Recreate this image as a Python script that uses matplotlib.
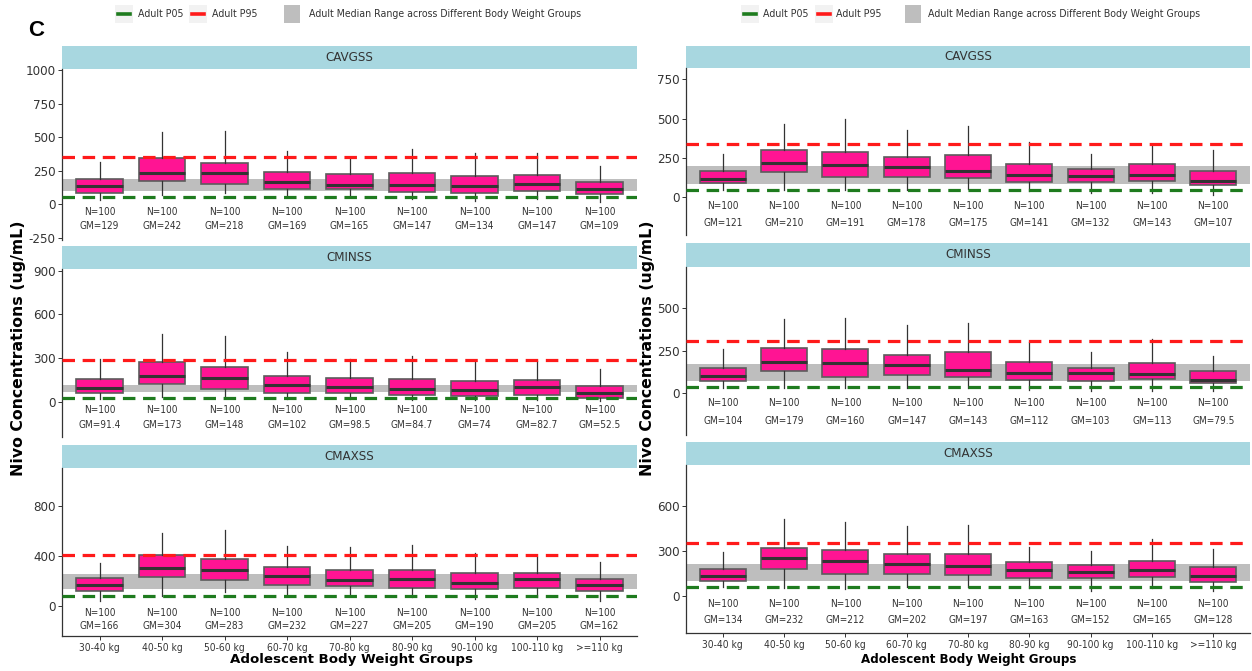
import matplotlib
matplotlib.use("Agg")
import matplotlib.pyplot as plt
from matplotlib.patches import Rectangle
from matplotlib.lines import Line2D

W, H = 1252, 671
plt.rcParams['font.family'] = ['DejaVu Sans']
plt.rcParams['font.stretch'] = 'condensed'
plt.rcParams['lines.scale_dashes'] = False

# ---------------------------------------------------------------- data
groups = ["30-40 kg", "40-50 kg", "50-60 kg", "60-70 kg", "70-80 kg",
          "80-90 kg", "90-100 kg", "100-110 kg", ">=110 kg"]
n_subjects = [100, 100, 100, 100, 100, 100, 100, 100, 100]
metrics = ["CAVGSS", "CMINSS", "CMAXSS"]

# left column: box statistics per weight group
left_cavgss = dict(
    whislo=[35, 67, 85, 55, 55, 42, 25, 42, 17],
    q1=[87, 172, 150, 110, 110, 92, 85, 100, 75],
    med=[135, 232, 230, 168, 142, 147, 138, 153, 112],
    q3=[190, 347, 310, 242, 222, 230, 210, 217, 167],
    whishi=[317, 535, 542, 397, 347, 412, 385, 380, 285])
left_cminss = dict(
    whislo=[19, 30, 26, 19, 19, 12, 12, 12, 7],
    q1=[58, 124, 89, 58, 58, 47, 42, 49, 26],
    med=[96, 175, 166, 117, 100, 89, 82, 100, 58],
    q3=[157, 274, 236, 175, 166, 157, 143, 147, 110],
    whishi=[292, 463, 452, 339, 292, 311, 276, 283, 227])
left_cmaxss = dict(
    whislo=[43, 84, 111, 84, 78, 76, 54, 70, 38],
    q1=[119, 232, 211, 165, 159, 146, 138, 143, 119],
    med=[170, 300, 286, 243, 211, 216, 184, 213, 165],
    q3=[227, 408, 373, 313, 286, 286, 265, 267, 213],
    whishi=[346, 583, 605, 481, 467, 489, 421, 394, 354])
left_gm = [["129", "242", "218", "169", "165", "147", "134", "147", "109"],
           ["91.4", "173", "148", "102", "98.5", "84.7", "74", "82.7", "52.5"],
           ["166", "304", "283", "232", "227", "205", "190", "205", "162"]]
left_p05 = [55, 26, 81]
left_p95 = [352, 285, 405]
left_band_lo = [100, 66, 138]
left_band_hi = [185, 117, 259]

# right column: box statistics per weight group
right_cavgss = dict(
    whislo=[45, 45, 45, 45, 55, 40, 25, 25, 15],
    q1=[89, 160, 128, 128, 121, 96, 96, 106, 75],
    med=[118, 215, 205, 190, 170, 140, 136, 142, 102],
    q3=[166, 298, 288, 256, 266, 209, 181, 209, 166],
    whishi=[277, 468, 500, 426, 452, 351, 272, 324, 298])
right_cminss = dict(
    whislo=[29, 33, 33, 33, 33, 20, 14, 14, 14],
    q1=[74, 131, 98, 108, 94, 78, 74, 82, 59],
    med=[102, 186, 176, 167, 136, 118, 118, 112, 80],
    q3=[151, 265, 261, 225, 241, 182, 151, 180, 131],
    whishi=[261, 435, 445, 402, 412, 300, 241, 320, 221])
right_cmaxss = dict(
    whislo=[61, 49, 43, 61, 61, 49, 34, 49, 34],
    q1=[99, 178, 144, 146, 139, 117, 121, 124, 90],
    med=[130, 252, 229, 213, 200, 169, 157, 169, 128],
    q3=[178, 315, 303, 279, 279, 225, 202, 229, 191],
    whishi=[290, 510, 492, 465, 470, 326, 297, 375, 308])
right_gm = [["121", "210", "191", "178", "175", "141", "132", "143", "107"],
            ["104", "179", "160", "147", "143", "112", "103", "113", "79.5"],
            ["134", "232", "212", "202", "197", "163", "152", "165", "128"]]
right_p05 = [49, 35, 61]
right_p95 = [341, 308, 353]
right_band_lo = [85, 73, 101]
right_band_hi = [200, 174, 213]

left_yticks = [[-250, 0, 250, 500, 750, 1000], [0, 300, 600, 900], [0, 400, 800]]
right_yticks = [[0, 250, 500, 750], [0, 250, 500], [0, 300, 600]]

# ---------------------------------------------------------------- style
BOX_FILL = "#FF1493"
BOX_EDGE = "#5c5c5c"
DARK = "#333333"
STRIP = "#A8D7E0"
BAND = "#BEBEBE"
RED = "#FF1A1A"
GREEN = "#1E7B1E"

fig = plt.figure(figsize=(W / 100, H / 100), dpi=100)


def px_axes(x0, x1, y0, y1):
    return fig.add_axes([x0 / W, 1 - y1 / H, (x1 - x0) / W, (y1 - y0) / H])


def fx(x):
    return x / W


def fy(y):
    return 1 - y / H


def draw_panel(x0, x1, strip_top, top, bottom, ylim, stats_dict, gm, p05, p95,
               blo, bhi, yticks, title, show_x):
    sax = px_axes(x0, x1, strip_top, top)
    sax.set_facecolor(STRIP)
    sax.set_xticks([])
    sax.set_yticks([])
    for s in sax.spines.values():
        s.set_visible(False)
    sax.text(0.5, 0.5, title, ha="center", va="center", fontsize=9.5,
             color=DARK, transform=sax.transAxes)

    ax = px_axes(x0, x1, top, bottom)
    ax.set_xlim(0.4, 9.6)
    ax.set_ylim(*ylim)
    ax.axhspan(blo, bhi, color=BAND, lw=0, zorder=1)

    stats = []
    for i in range(len(groups)):
        stats.append(dict(med=stats_dict["med"][i], q1=stats_dict["q1"][i],
                          q3=stats_dict["q3"][i], whislo=stats_dict["whislo"][i],
                          whishi=stats_dict["whishi"][i], fliers=[]))
    ax.bxp(stats, positions=range(1, len(groups) + 1), widths=0.75,
           patch_artist=True, showfliers=False, showcaps=False,
           boxprops=dict(facecolor=BOX_FILL, edgecolor=BOX_EDGE, lw=1.2),
           medianprops=dict(color=DARK, lw=2.2),
           whiskerprops=dict(color=DARK, lw=0.9),
           manage_ticks=False, zorder=3)

    dash = (0, (9, 5.5))
    ax.axhline(p95, color=RED, ls=dash, lw=2.3, zorder=4)
    ax.axhline(p05, color=GREEN, ls=dash, lw=2.3, zorder=4)

    for i, (n, g) in enumerate(zip(n_subjects, gm)):
        ax.text(i + 1, -55, f"N={n}", ha="center", va="center", fontsize=7.2,
                color=DARK)
        ax.text(i + 1, -163, f"GM={g}", ha="center", va="center", fontsize=7.2,
                color=DARK)

    ax.set_yticks(yticks)
    ax.set_yticklabels([str(t) for t in yticks])
    ax.tick_params(axis="y", labelsize=9.5, colors=DARK, length=3, width=0.7,
                   pad=1.5)
    for side in ["top", "right"]:
        ax.spines[side].set_visible(False)
    ax.spines["left"].set_color(DARK)
    ax.spines["left"].set_linewidth(0.9)
    if show_x:
        ax.spines["bottom"].set_color(DARK)
        ax.spines["bottom"].set_linewidth(0.9)
        ax.set_xticks(range(1, len(groups) + 1))
        ax.set_xticklabels(groups)
        ax.tick_params(axis="x", labelsize=7.3, colors=DARK, length=3,
                       width=0.7, pad=2)
    else:
        ax.spines["bottom"].set_visible(False)
        ax.set_xticks([])
    return ax


left_sets = [left_cavgss, left_cminss, left_cmaxss]
right_sets = [right_cavgss, right_cminss, right_cmaxss]
left_rows = [(46, 69, 240), (246, 269, 437), (445, 468, 636)]
right_rows = [(46, 68, 235), (243, 267, 435), (442, 465, 633)]
left_ylims = [(-266, 1007), (-243, 913), (-239, 1101)]
right_ylims = [(-240, 822), (-245, 742), (-249, 871)]

for k in range(3):
    st, tp, bt = left_rows[k]
    draw_panel(62, 637, st, tp, bt, left_ylims[k], left_sets[k], left_gm[k],
               left_p05[k], left_p95[k], left_band_lo[k], left_band_hi[k],
               left_yticks[k], metrics[k], k == 2)
    st, tp, bt = right_rows[k]
    draw_panel(686, 1250, st, tp, bt, right_ylims[k], right_sets[k], right_gm[k],
               right_p05[k], right_p95[k], right_band_lo[k], right_band_hi[k],
               right_yticks[k], metrics[k], k == 2)

# axis titles
for xc in (19, 648):
    fig.text(fx(xc), fy(348), "Nivo Concentrations (ug/mL)", rotation=90,
             ha="center", va="center", fontsize=11.3, fontweight="bold",
             fontstretch="normal", color="black")
fig.text(fx(351), fy(660), "Adolescent Body Weight Groups", ha="center",
         va="center", fontsize=9.6, fontweight="bold", fontstretch="normal",
         color="black")
fig.text(fx(969), fy(660), "Adolescent Body Weight Groups", ha="center",
         va="center", fontsize=8.6, fontweight="bold", fontstretch="normal",
         color="black")

# panel letter
fig.text(fx(36), fy(31), "C", ha="center", va="center", fontsize=16,
         fontweight="bold", family=["Liberation Sans", "DejaVu Sans"],
         fontstretch="normal")


# legends above each column
def legend_row(k1, t1, k2, t2, k3, t3, yc=14):
    for kx, col in ((k1, GREEN), (k2, RED)):
        fig.add_artist(Rectangle((fx(kx - 9), fy(yc + 9)), 18 / W, 18 / H,
                                 transform=fig.transFigure, facecolor="#F2F2F2",
                                 edgecolor="none"))
        fig.add_artist(Line2D([fx(kx - 6), fx(kx + 6)], [fy(yc), fy(yc)],
                              transform=fig.transFigure, color=col, lw=2.6))
    fig.add_artist(Rectangle((fx(k3 - 8), fy(yc + 9)), 16 / W, 18 / H,
                             transform=fig.transFigure, facecolor=BAND,
                             edgecolor="none"))
    for tx, txt in ((t1, "Adult P05"), (t2, "Adult P95"),
                    (t3, "Adult Median Range across Different Body Weight Groups")):
        fig.text(fx(tx), fy(yc), txt, ha="left", va="center", fontsize=7.6,
                 color=DARK)


legend_row(124, 138, 198, 212, 292, 309)
legend_row(750, 763, 824, 836, 913, 928)

fig.savefig("out.png", dpi=100)
